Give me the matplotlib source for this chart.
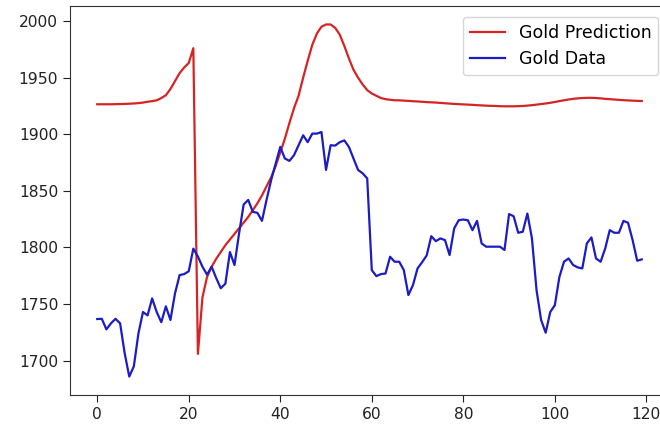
import matplotlib
matplotlib.use("Agg")
import matplotlib.pyplot as plt
import numpy as np

gold_data = [
    1736.8, 1737, 1727.7, 1733, 1737, 1733, 1706.5, 1686, 1695, 1724,
    1743, 1740, 1755, 1743, 1734, 1748, 1736, 1759.5, 1775.6, 1776.5,
    1779, 1799, 1792, 1783, 1776, 1783, 1773, 1764, 1768, 1796,
    1784.5, 1812.5, 1838, 1842, 1831.5, 1830.6, 1823.5, 1842, 1859.4, 1874.2,
    1888.8, 1878.6, 1876.5, 1881.5, 1890.3, 1899.1, 1893, 1900.6, 1900.6, 1902,
    1868.5, 1890.3, 1890, 1893, 1894.6, 1888.8, 1878.6, 1868.5, 1865.5, 1861,
    1780, 1774.7, 1776.5, 1777, 1791.8, 1787.4, 1787.4, 1780, 1758, 1766.8,
    1781.5, 1787, 1793, 1810, 1805.6, 1808, 1806.5, 1793.3, 1816.8, 1824.1,
    1824.7, 1824, 1815.3, 1823.5, 1803.6, 1800.7, 1800.7, 1800.7, 1800.7, 1797.8,
    1829.5, 1827.6, 1813, 1813.9, 1830, 1808, 1762.4, 1736, 1724.7, 1743,
    1749, 1774, 1787.4, 1790.3, 1784.5, 1782.4, 1781.5, 1803.6, 1808.9, 1790.3,
    1787.4, 1799, 1815.3, 1813, 1813, 1823.5, 1821.8, 1806.5, 1788.3, 1789.5,
]

gold_prediction = [
    1926.5, 1926.5, 1926.5, 1926.5, 1926.6, 1926.7, 1926.8, 1927, 1927.2, 1927.5,
    1928, 1928.7, 1929.3, 1930, 1932, 1934.5, 1940, 1947, 1954, 1959,
    1963, 1976, 1706, 1756, 1774, 1783, 1790, 1796, 1802, 1807,
    1812, 1817, 1822, 1827, 1833, 1839, 1846, 1854, 1862, 1872,
    1884, 1896, 1910, 1923, 1934, 1950, 1965, 1979, 1989, 1995,
    1997, 1997, 1994, 1988, 1978, 1967, 1957, 1950, 1944, 1939,
    1936, 1934, 1932, 1931, 1930.5, 1930, 1930, 1929.7, 1929.5, 1929.2,
    1929, 1928.7, 1928.4, 1928.2, 1928, 1927.7, 1927.4, 1927.1, 1926.8, 1926.6,
    1926.4, 1926.2, 1926, 1925.7, 1925.5, 1925.3, 1925.1, 1925, 1924.8, 1924.7,
    1924.7, 1924.7, 1924.8, 1925, 1925.3, 1925.7, 1926.2, 1926.7, 1927.2, 1927.8,
    1928.5, 1929.3, 1930, 1930.7, 1931.3, 1931.7, 1932, 1932.2, 1932.2, 1932,
    1931.7, 1931.3, 1931, 1930.7, 1930.4, 1930.1, 1929.9, 1929.7, 1929.5, 1929.4,
]

x = np.arange(len(gold_data))

fig = plt.figure(figsize=(6.6, 4.3), dpi=100)
ax = fig.add_axes([70 / 660, 35 / 430, 599 / 660, 389 / 430])

ax.plot(x, gold_prediction, color="#d42424", linewidth=1.6, label="Gold Prediction")
ax.plot(x, gold_data, color="#1c1cc4", linewidth=1.6, label="Gold Data")

ax.set_xlim(-5.95, 124.95)
ax.set_ylim(1669.7, 2013.3)
ax.set_xticks([0, 20, 40, 60, 80, 100, 120])
ax.set_yticks([1700, 1750, 1800, 1850, 1900, 1950, 2000])
ax.tick_params(labelsize=11.2, length=5, colors="#222222")
for s in ax.spines.values():
    s.set_color("#333333")

ax.legend(loc="upper right", fontsize=12.5, borderaxespad=0.62)

fig.savefig("out.png", dpi=100)
